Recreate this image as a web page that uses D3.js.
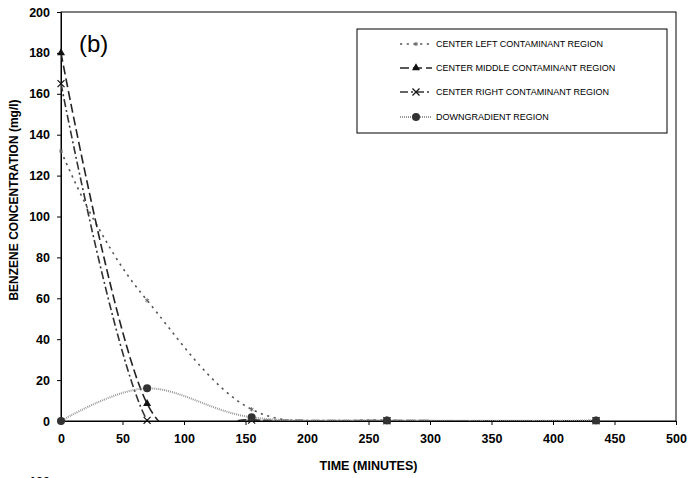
<!DOCTYPE html>
<meta charset="utf-8">
<style>
body { margin: 0; background: #fff; }
text { font-family: "Liberation Sans", Arial, sans-serif; fill: #000; }
.tick text { font-weight: bold; font-size: 12.5px; }
.title { font-weight: bold; font-size: 12.5px; }
.legend text { font-size: 9px; }
</style>

<svg width="691" height="478"></svg>

<script src="https://d3js.org/d3.v7.min.js"></script>
<script>
// sampling times (minutes) and benzene readings (mg/l) per region
var times = [0, 70, 155, 265, 435];
var timesLeft = [0, 28, 70, 155, 265, 435];

var centerLeft = [132, 97, 59, 5.7, 0.3, 0.2];
var centerMiddle = [180, 8.5, 0.6, 0.2, 0.1];
var centerRight = [165, 0.3, 0.4, 0.1, 0.1];
var downgradient = [0, 16, 1.8, 0.3, 0.2];

var xTicks = [0, 50, 100, 150, 200, 250, 300, 350, 400, 450, 500];
var yTicks = [0, 20, 40, 60, 80, 100, 120, 140, 160, 180, 200];

var legendLabels = ["CENTER LEFT CONTAMINANT REGION",
                    "CENTER MIDDLE CONTAMINANT REGION",
                    "CENTER RIGHT CONTAMINANT REGION",
                    "DOWNGRADIENT REGION"];

var svg = d3.select("svg");

var x = d3.scaleLinear().domain([0, 500]).range([61, 676]);
var y = d3.scaleLinear().domain([0, 200]).range([421, 12]);

// each series: points, line look, marker
var series = [
  { t: timesLeft, v: centerLeft, color: "#555", width: 1.6, dash: "2.2,4.5", marker: "star" },
  { t: times, v: centerMiddle, color: "#222", width: 1.6, dash: "9,4", marker: "triangle" },
  { t: times, v: centerRight, color: "#333", width: 1.6, dash: "8,3,2,3", marker: "cross" },
  { t: times, v: downgradient, color: "#999", width: 2, dash: "1,1", marker: "circle" }
];

// clip lines to plot area (Excel style)
svg.append("clipPath").attr("id", "plot")
  .append("rect")
  .attr("x", x(0)).attr("y", y(200))
  .attr("width", x(500) - x(0)).attr("height", y(0) - y(200));

// frame
svg.append("rect")
  .attr("x", x(0)).attr("y", y(200))
  .attr("width", x(500) - x(0)).attr("height", y(0) - y(200))
  .attr("fill", "none").attr("stroke", "#000").attr("stroke-width", 1);

// axes
var xAxis = svg.append("g")
  .attr("transform", "translate(0," + y(0) + ")")
  .call(d3.axisBottom(x).tickValues(xTicks).tickSize(4).tickPadding(9).tickFormat(d3.format("d")));
var yAxis = svg.append("g")
  .attr("transform", "translate(" + x(0) + ",0)")
  .call(d3.axisLeft(y).tickValues(yTicks).tickSize(4).tickPadding(7).tickFormat(d3.format("d")));
svg.selectAll(".domain").attr("stroke", "#000");
svg.selectAll(".tick line").attr("stroke", "#000");

// lines
var line = d3.line()
  .x(function(d) { return x(d[0]); })
  .y(function(d) { return y(d[1]); })
  .curve(d3.curveCardinal.tension(0));

var lines = svg.append("g").attr("clip-path", "url(#plot)");

series.forEach(function(s) {
  var pts = s.t.map(function(t, i) { return [t, s.v[i]]; });
  lines.append("path")
    .datum(pts)
    .attr("d", line)
    .attr("fill", "none")
    .attr("stroke", s.color)
    .attr("stroke-width", s.width)
    .attr("stroke-dasharray", s.dash);
});

function drawMarker(g, type, cx, cy) {
  if (type == "star") {
    g.append("path")
      .attr("d", d3.symbol().type(d3.symbolAsterisk || d3.symbolCross).size(12)())
      .attr("transform", "translate(" + cx + "," + cy + ")")
      .attr("fill", "none").attr("stroke", "#666").attr("stroke-width", 1);
  } else if (type == "triangle") {
    g.append("path")
      .attr("d", d3.symbol().type(d3.symbolTriangle).size(28)())
      .attr("transform", "translate(" + cx + "," + cy + ")")
      .attr("fill", "#111");
  } else if (type == "cross") {
    g.append("path")
      .attr("d", "M-3.5,-3.5L3.5,3.5M-3.5,3.5L3.5,-3.5")
      .attr("transform", "translate(" + cx + "," + cy + ")")
      .attr("stroke", "#111").attr("stroke-width", 1.2);
  } else {
    g.append("circle")
      .attr("cx", cx).attr("cy", cy).attr("r", 4)
      .attr("fill", "#333");
  }
}

var markers = svg.append("g");
series.forEach(function(s) {
  s.t.forEach(function(t, i) {
    if (s.marker == "star" && t == 28) return;
    drawMarker(markers, s.marker, x(t), y(s.v[i]));
  });
});

// titles
svg.append("text").attr("class", "title")
  .attr("x", (x(0) + x(500)) / 2).attr("y", 470)
  .attr("text-anchor", "middle")
  .text("TIME (MINUTES)");

svg.append("text").attr("class", "title")
  .attr("transform", "translate(18,200) rotate(-90)")
  .attr("text-anchor", "middle")
  .style("font-size", "12px")
  .text("BENZENE CONCENTRATION (mg/l)");

svg.append("text")
  .attr("x", 79).attr("y", 52)
  .style("font-size", "24px")
  .text("(b)");

// top of the next panel's axis label peeking in at the bottom
svg.append("text")
  .attr("x", 50).attr("y", 486)
  .attr("text-anchor", "end")
  .style("font-weight", "bold").style("font-size", "12.5px")
  .text("180");

// legend
var legend = svg.append("g").attr("class", "legend");
legend.append("rect")
  .attr("x", 357).attr("y", 29).attr("width", 310).attr("height", 104)
  .attr("fill", "#fff").attr("stroke", "#000").attr("stroke-width", 1);

var rowY = [44, 68, 92, 117];
series.forEach(function(s, i) {
  legend.append("line")
    .attr("x1", 400).attr("x2", 432)
    .attr("y1", rowY[i]).attr("y2", rowY[i])
    .attr("stroke", s.color)
    .attr("stroke-width", s.width)
    .attr("stroke-dasharray", s.dash);
  drawMarker(legend, s.marker, 416, rowY[i]);
  legend.append("text")
    .attr("x", 436).attr("y", rowY[i] + 3.2)
    .text(legendLabels[i]);
});
</script>
